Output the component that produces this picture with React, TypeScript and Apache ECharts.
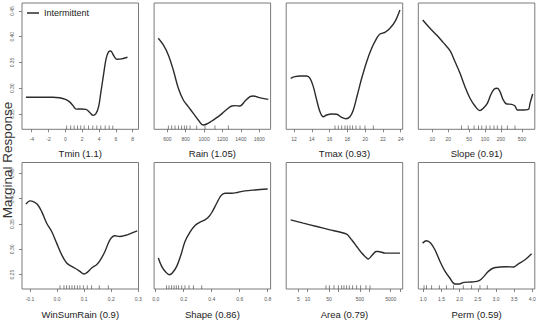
import React, { useEffect, useRef } from "react";
import * as echarts from "echarts";

// ---- Data ----
const yTicks = [0.25, 0.3, 0.35, 0.4, 0.45];

const tminX = [-4.68, -3.0, -1.5, -0.7, 0.0, 0.5, 0.9, 1.3, 1.9, 2.45, 2.9, 3.3, 3.65, 3.95, 4.2, 4.5, 4.85, 5.15, 5.4, 5.7, 6.1, 6.5, 7.38];
const tminY = [0.2824, 0.2824, 0.2824, 0.2815, 0.2785, 0.2735, 0.2665, 0.2595, 0.2597, 0.259, 0.253, 0.2474, 0.2513, 0.2642, 0.2901, 0.3225, 0.3581, 0.371, 0.3723, 0.3646, 0.3562, 0.3565, 0.3601];
const tminRug = [0.16, 0.64, 1.04, 1.43, 1.83, 2.23, 2.74, 3.26, 3.74, 4.21, 4.73, 5.2, 5.64];
const tminTicks = [-4, -2, 0, 2, 4, 6, 8];

const rainX = [502, 557, 611, 665, 720, 774, 828, 883, 937, 991, 1028, 1083, 1154, 1227, 1300, 1336, 1390, 1445, 1499, 1535, 1589, 1698];
const rainY = [0.397, 0.384, 0.3646, 0.3354, 0.2999, 0.2772, 0.2642, 0.2513, 0.2383, 0.2286, 0.2306, 0.2364, 0.2448, 0.2558, 0.2655, 0.2662, 0.2655, 0.2752, 0.2836, 0.285, 0.2824, 0.2785];
const rainRug = [611, 648, 684, 720, 756, 785, 811, 847, 920, 1010, 1118, 1263];
const rainTicks = [600, 800, 1000, 1200, 1400, 1600];

const tmaxX = [11.63, 12.11, 12.67, 13.42, 13.8, 14.17, 14.55, 14.92, 15.3, 15.67, 16.24, 16.8, 17.36, 17.84, 18.29, 18.67, 19.12, 19.61, 20.17, 20.73, 21.29, 21.66, 22.22, 22.79, 23.35, 23.91];
const tmaxY = [0.3193, 0.3225, 0.3238, 0.3238, 0.3193, 0.3031, 0.2772, 0.2545, 0.2448, 0.2481, 0.25, 0.2494, 0.2435, 0.2409, 0.2448, 0.2578, 0.2869, 0.3193, 0.3516, 0.3775, 0.397, 0.4053, 0.4086, 0.4164, 0.4292, 0.4519];
const tmaxRug = [16.61, 16.98, 17.36, 17.73, 17.99, 18.29, 18.59, 18.97, 19.42, 19.98, 20.91];
const tmaxTicks = [12, 14, 16, 18, 20, 22, 24];

const slopeX = [6.58, 9.04, 12.1, 16.2, 21.7, 27.0, 33.6, 41.7, 51.9, 64.6, 80.4, 92.9, 110.7, 128.2, 148.2, 171.2, 192.6, 222.4, 258, 321, 371, 410, 497, 664, 714, 803];
const slopeY = [0.4325, 0.4164, 0.4034, 0.3885, 0.373, 0.3516, 0.329, 0.303, 0.2805, 0.2655, 0.2565, 0.2611, 0.2707, 0.2869, 0.2979, 0.2999, 0.2934, 0.2772, 0.2694, 0.2688, 0.2655, 0.2578, 0.2578, 0.2591, 0.2707, 0.2888];
const slopeRug = [36, 48, 62, 75, 87, 105, 124, 148, 171, 208, 265, 371];
const slopeTicks = [10, 20, 50, 100, 200, 500];

const wsrX = [-0.1148, -0.1, -0.0877, -0.073, -0.0568, -0.0384, -0.0199, -0.0015, 0.017, 0.0354, 0.0539, 0.0697, 0.0845, 0.0993, 0.1114, 0.1277, 0.1461, 0.1583, 0.1768, 0.1952, 0.2137, 0.2321, 0.2506, 0.2753, 0.296];
const wsrY = [0.3892, 0.3957, 0.3943, 0.3892, 0.3746, 0.3517, 0.3352, 0.3124, 0.2894, 0.273, 0.2664, 0.2618, 0.2566, 0.2513, 0.2546, 0.2632, 0.2697, 0.2776, 0.2959, 0.3189, 0.3268, 0.3254, 0.3274, 0.3321, 0.3366];
const wsrRug = [0.0107, 0.0255, 0.0354, 0.045, 0.055, 0.0649, 0.0746, 0.0845, 0.0968, 0.1114, 0.1277, 0.1557, 0.189];
const wsrTicks = [-0.1, 0, 0.1, 0.2, 0.3];

const shapeX = [0.0186, 0.0429, 0.0714, 0.0971, 0.1186, 0.15, 0.1807, 0.2093, 0.245, 0.2807, 0.3164, 0.3521, 0.3807, 0.4043, 0.4357, 0.4664, 0.495, 0.5429, 0.59, 0.6379, 0.7093, 0.8];
const shapeY = [0.2829, 0.2664, 0.2553, 0.25, 0.2533, 0.2664, 0.2894, 0.3156, 0.334, 0.3471, 0.3537, 0.3583, 0.3648, 0.3746, 0.3911, 0.4061, 0.4108, 0.4108, 0.4128, 0.4154, 0.4173, 0.4193];
const shapeRug = [0.078, 0.095, 0.114, 0.131, 0.147, 0.164, 0.186, 0.209, 0.238, 0.269, 0.329];
const shapeTicks = [0, 0.2, 0.4, 0.6, 0.8];

const areaX = [2.83, 7.26, 19.8, 53.4, 186, 271, 394, 572, 831, 938, 1209, 1667, 1978, 3263, 5380, 10000];
const areaY = [0.3583, 0.3517, 0.3451, 0.3386, 0.3301, 0.3189, 0.3057, 0.2927, 0.2829, 0.2809, 0.2874, 0.2959, 0.2959, 0.2927, 0.2927, 0.2927];
const areaRug = [39.6, 50.8, 72, 99.5, 128, 152, 186, 226, 292, 393, 531, 789, 1064];
const areaTicks = [5, 10, 50, 100, 500, 1000, 5000, 10000];
const areaLabels = [5, 10, 50, 500, 5000];

const permX = [0.98, 1.09, 1.2, 1.32, 1.46, 1.6, 1.73, 1.87, 1.99, 2.12, 2.33, 2.54, 2.67, 2.79, 2.93, 3.11, 3.3, 3.48, 3.61, 3.8, 3.98];
const permY = [0.3124, 0.3169, 0.3124, 0.2992, 0.2762, 0.2566, 0.2435, 0.2317, 0.2317, 0.2349, 0.2356, 0.2382, 0.2467, 0.2566, 0.2632, 0.2651, 0.2657, 0.2651, 0.271, 0.2795, 0.2913];
const permRug = [1.02, 1.09, 1.23, 1.44, 1.64, 1.83, 2.1, 2.33, 2.56, 2.76];
const permTicks = [1, 1.5, 2, 2.5, 3, 3.5, 4];

const FONT = "Liberation Sans, Arial, Helvetica, sans-serif";

export default function App() {
  const ref = useRef<HTMLDivElement>(null);
  useEffect(() => {
    document.body.style.margin = "0";
    const chart = echarts.init(ref.current!, null, { renderer: "svg" });
    const lg = (v: number) => Math.log10(v);
    const f1 = (v: number) => (Math.abs(v) < 1e-9 ? "0.0" : v.toFixed(1));
    const fInt = (v: number) => String(Math.round(v));
    const fLog = (v: number) => String(Math.round(Math.pow(10, v)));

    const panels = [
      { title: "Tmin (1.1)", x: tminX, y: tminY, rug: tminRug, ticks: tminTicks, labels: tminTicks, min: -5.152, max: 8.689, log: false, fmt: fInt, smooth: 0.35 },
      { title: "Rain (1.05)", x: rainX, y: rainY, rug: rainRug, ticks: rainTicks, labels: rainTicks, min: 456.5, max: 1722.8, log: false, fmt: fInt, smooth: 0.35 },
      { title: "Tmax (0.93)", x: tmaxX, y: tmaxY, rug: tmaxRug, ticks: tmaxTicks, labels: tmaxTicks, min: 11.123, max: 24.22, log: false, fmt: fInt, smooth: 0.35 },
      { title: "Slope (0.91)", x: slopeX, y: slopeY, rug: slopeRug, ticks: slopeTicks, labels: slopeTicks, min: 0.7343, max: 2.945, log: true, fmt: fLog, smooth: 0.35 },
      { title: "WinSumRain (0.9)", x: wsrX, y: wsrY, rug: wsrRug, ticks: wsrTicks, labels: wsrTicks, min: -0.1295, max: 0.3007, log: false, fmt: f1, smooth: 0.35 },
      { title: "Shape (0.86)", x: shapeX, y: shapeY, rug: shapeRug, ticks: shapeTicks, labels: shapeTicks, min: -0.0114, max: 0.8207, log: false, fmt: f1, smooth: 0.35 },
      { title: "Area (0.79)", x: areaX, y: areaY, rug: areaRug, ticks: areaTicks, labels: areaLabels, min: 0.3061, max: 4.089, log: true, fmt: fLog, smooth: 0.2 },
      { title: "Perm (0.59)", x: permX, y: permY, rug: permRug, ticks: permTicks, labels: permTicks, min: 0.8624, max: 4.069, log: false, fmt: f1, smooth: 0.35 },
    ];

    const colLeft = [22, 154.1, 286.2, 418.3];
    const colWidth = 116.5;
    const rowTop = [3, 162.5];
    const rowHeight = [126.3, 126.8];
    const yRange = [
      [0.2203, 0.4655],
      [0.2218, 0.4715],
    ];
    const nameGap = [19, 20];

    const grids: any[] = [];
    const xAxes: any[] = [];
    const yAxes: any[] = [];
    const series: any[] = [];

    panels.forEach((p, i) => {
      const r = Math.floor(i / 4);
      const c = i % 4;
      const tx = (v: number) => (p.log ? lg(v) : v);
      grids.push({
        left: colLeft[c],
        top: rowTop[r],
        width: colWidth,
        height: rowHeight[r],
        show: true,
        borderColor: "#7a7a7a",
        borderWidth: 1,
        backgroundColor: "transparent",
      });
      xAxes.push({
        type: "value",
        gridIndex: i,
        position: "bottom",
        min: p.min,
        max: p.max,
        name: p.title,
        nameLocation: "middle",
        nameGap: nameGap[r],
        nameTextStyle: { fontSize: 9.5, color: "#222", fontFamily: FONT },
        axisLine: { show: false, onZero: false },
        splitLine: { show: false },
        axisTick: {
          show: true,
          inside: false,
          length: 3,
          customValues: p.ticks.map(tx),
          lineStyle: { color: "#666", width: 0.8 },
        },
        axisLabel: {
          show: true,
          margin: 7.5,
          fontSize: 5,
          color: "#555",
          fontFamily: FONT,
          customValues: p.labels.map(tx),
          formatter: (v: number) => p.fmt(v),
        },
      });
      const leftCol = c === 0;
      yAxes.push({
        type: "value",
        gridIndex: i,
        position: "left",
        min: yRange[r][0],
        max: yRange[r][1],
        axisLine: { show: false, onZero: false },
        splitLine: { show: false },
        axisTick: {
          show: leftCol,
          inside: false,
          length: 3,
          customValues: yTicks,
          lineStyle: { color: "#666", width: 0.8 },
        },
        axisLabel: {
          show: leftCol,
          rotate: 90,
          margin: 7.5,
          fontSize: 5,
          color: "#555",
          fontFamily: FONT,
          customValues: yTicks,
          formatter: (v: number) => v.toFixed(2),
        },
      });
      series.push({
        name: "Intermittent",
        type: "line",
        xAxisIndex: i,
        yAxisIndex: i,
        data: p.x.map((v, j) => [tx(v), p.y[j]]),
        symbol: "none",
        showSymbol: false,
        smooth: p.smooth,
        lineStyle: { color: "#2b2b2b", width: 1.4 },
        itemStyle: { color: "#2b2b2b" },
        silent: true,
      });
      series.push({
        name: "rug",
        type: "scatter",
        xAxisIndex: i,
        yAxisIndex: i,
        data: p.rug.map((v) => [tx(v), yRange[r][0]]),
        symbol: "rect",
        symbolSize: [0.8, 3.8],
        symbolOffset: [0, -1.9],
        itemStyle: { color: "#444" },
        silent: true,
      });
    });

    chart.setOption({
      animation: false,
      backgroundColor: "#ffffff",
      textStyle: { fontFamily: FONT },
      grid: grids,
      xAxis: xAxes,
      yAxis: yAxes,
      series,
      legend: {
        data: [{ name: "Intermittent", icon: "rect" }],
        left: 27,
        top: 8.5,
        padding: 0,
        itemWidth: 12,
        itemHeight: 1.5,
        itemGap: 5,
        itemStyle: { color: "#2b2b2b", borderWidth: 0 },
        lineStyle: { width: 0 },
        textStyle: { fontSize: 9, color: "#222", fontFamily: FONT },
      },
      graphic: [
        {
          type: "text",
          x: 7.5,
          y: 160,
          rotation: Math.PI / 2,
          style: {
            text: "Marginal Response",
            font: `13.5px ${FONT}`,
            fill: "#333",
            align: "center",
            verticalAlign: "middle",
          },
        },
      ],
    });
    return () => chart.dispose();
  }, []);
  return <div ref={ref} style={{ width: 540, height: 320 }} />;
}
